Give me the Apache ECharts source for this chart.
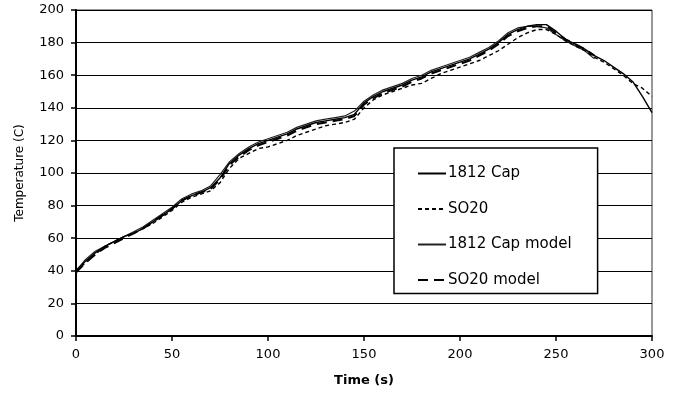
<!DOCTYPE html>
<html>
<head>
<meta charset="utf-8">
<script src="https://cdn.jsdelivr.net/npm/echarts@6/dist/echarts.min.js"></script>
<style>html,body{margin:0;padding:0;background:#fff;}#c{width:677px;height:393px;}</style>
</head>
<body>
<div id="c"></div>
<script>
var times = [0,5,10,15,20,25,30,35,40,45,50,55,60,65,70,75,80,85,90,95,100,105,110,115,120,125,130,135,140,145,150,155,160,165,170,175,180,185,190,195,200,205,210,215,220,225,230,235,240,245,250,255,260,265,270,275,280,285,290,295,300];
var cap1812 = [40,46,51,55,58,61,63,66,70,74,78,83,86,88,91,97,106,111,115,118,120,122,124,127,129,131,132,133,134,136,143,147,150,152,154,157,159,162,164,166,168,170,173,176,180,185,188,190,191,191,187,182,179,176,172,169,165,161,156,147,137];
var so20 = [40,45,50,55,58,61,63,66,69,73,77,82,85,87,89,94,103,109,112,115,116,118,120,123,125,127,129,130,131,133,140,145,148,150,152,154,155,158,161,163,165,167,169,172,175,179,183,186,188,188,185,181,178,175,171,168,164,160,155,152,147];
var cap1812Model = [40,47,52,55,58,61,64,67,71,75,79,84,87,89,92,99,107,112,116,119,121,123,125,128,130,132,133,134,135,138,144,148,151,153,155,158,160,163,165,167,169,171,174,177,181,186,189,190,190,189,185,181,178,175,170];
var so20Model = [39,45,50,54,57,60,63,66,70,74,78,83,86,88,90,96,105,110,114,117,119,121,123,126,128,130,131,132,133,135,142,146,149,151,153,156,158,161,163,165,167,169,172,175,179,184,187,189,190,190,186,182,179,176,172];
var names = ['1812 Cap','SO20','1812 Cap model','SO20 model'];

function pairs(vals){ return vals.map(function(v,i){ return [times[i], v]; }); }

var chart = echarts.init(document.getElementById('c'), null, {renderer:'canvas'});
var font = 'DejaVu Sans';
chart.setOption({
  animation:false,
  backgroundColor:'#fff',
  grid:{left:76, right:25, top:10, bottom:57, show:true, borderColor:'#333', borderWidth:1, backgroundColor:'transparent'},
  xAxis:{type:'value', min:0, max:300, interval:50,
    axisLine:{show:true, onZero:false, lineStyle:{color:'#000', width:2}},
    axisTick:{show:true, inside:false, length:5, lineStyle:{color:'#000', width:1.5}},
    axisLabel:{color:'#000', fontFamily:font, fontSize:13, margin:12},
    splitLine:{show:false},
    name:'Time (s)', nameLocation:'middle', nameGap:38,
    nameTextStyle:{color:'#000', fontFamily:font, fontSize:13, fontWeight:'bold'}},
  yAxis:{type:'value', min:0, max:200, interval:20,
    axisLine:{show:true, lineStyle:{color:'#000', width:2}},
    axisTick:{show:true, inside:false, length:5, lineStyle:{color:'#000', width:1.5}},
    axisLabel:{color:'#000', fontFamily:font, fontSize:13, margin:12},
    splitLine:{show:true, lineStyle:{color:'#000', width:1}},
    name:'Temperature (C)', nameLocation:'middle', nameGap:50, nameRotate:90,
    nameTextStyle:{color:'#000', fontFamily:font, fontSize:12}},
  legend:{orient:'vertical', left:394, top:148, itemGap:20.5, itemWidth:28, itemHeight:14,
    padding:[18,26,6,23], backgroundColor:'#fff', borderColor:'#000', borderWidth:1.5,
    itemStyle:{opacity:0},
    textStyle:{color:'#000', fontFamily:font, fontSize:15, padding:[0,0,0,-3]},
    data:names},
  series:[
    {name:names[0], type:'line', data:pairs(cap1812), symbol:'none', itemStyle:{color:'#000'}, lineStyle:{color:'#000', width:1.4}, z:4},
    {name:names[1], type:'line', data:pairs(so20), symbol:'none', itemStyle:{color:'#000'}, lineStyle:{color:'#000', width:1.4, type:[4,3]}, z:3},
    {name:names[2], type:'line', data:pairs(cap1812Model), symbol:'none', itemStyle:{color:'#222'}, lineStyle:{color:'#222', width:1.2}, z:2},
    {name:names[3], type:'line', data:pairs(so20Model), symbol:'none', itemStyle:{color:'#000'}, lineStyle:{color:'#000', width:2, type:[10,6]}, z:5}
  ]
});
</script>
</body>
</html>
